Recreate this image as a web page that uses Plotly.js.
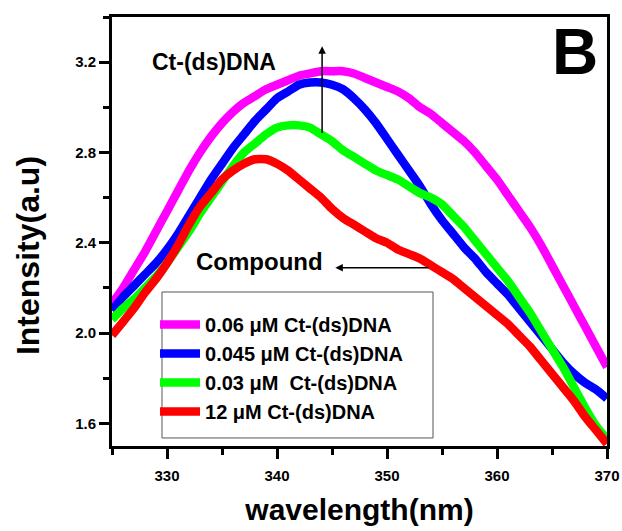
<!DOCTYPE html>
<html>
<head>
<meta charset="utf-8">
<script src="https://cdn.plot.ly/plotly-3.0.1.min.js"></script>
<style>
  html, body { margin: 0; padding: 0; background: #fff; }
  #chart { width: 622px; height: 531px; }
</style>
</head>
<body>
<div id="chart"></div>
<script>
// Wavelength (nm)
const wavelength = [325,326,327,328,329,330,331,332,333,334,335,336,337,338,339,340,341,342,343,344,345,346,347,348,349,350,351,352,353,354,355,356,357,358,359,360,361,362,363,364,365,366,367,368,369,370];

// Series names
const seriesNames = ["0.06 \u03bcM Ct-(ds)DNA", "0.045 \u03bcM Ct-(ds)DNA", "0.03 \u03bcM  Ct-(ds)DNA", "12 \u03bcM Ct-(ds)DNA"];

// Intensities (a.u)
const dna006 = [2.13,2.20,2.28,2.36,2.45,2.54,2.63,2.72,2.80,2.87,2.93,2.98,3.02,3.05,3.08,3.10,3.12,3.14,3.15,3.16,3.16,3.16,3.15,3.13,3.11,3.09,3.07,3.04,3.00,2.97,2.93,2.89,2.85,2.80,2.74,2.68,2.61,2.54,2.47,2.39,2.30,2.21,2.12,2.03,1.94,1.85];
const dna0045 = [2.10,2.16,2.21,2.26,2.31,2.37,2.44,2.52,2.60,2.68,2.75,2.82,2.88,2.94,2.99,3.04,3.07,3.10,3.11,3.11,3.10,3.08,3.04,2.99,2.93,2.86,2.79,2.72,2.65,2.57,2.50,2.44,2.38,2.33,2.27,2.22,2.17,2.11,2.05,1.99,1.93,1.87,1.82,1.78,1.75,1.71];
const dna003 = [2.06,2.11,2.15,2.20,2.25,2.31,2.38,2.45,2.53,2.60,2.67,2.74,2.80,2.84,2.88,2.91,2.92,2.92,2.91,2.88,2.85,2.81,2.78,2.75,2.72,2.70,2.68,2.65,2.62,2.60,2.57,2.52,2.47,2.41,2.35,2.29,2.23,2.16,2.09,2.01,1.93,1.85,1.76,1.67,1.59,1.53];
const compound12 = [1.99,2.05,2.11,2.18,2.24,2.31,2.39,2.48,2.56,2.62,2.68,2.72,2.75,2.77,2.77,2.75,2.72,2.68,2.64,2.60,2.55,2.51,2.48,2.45,2.42,2.40,2.37,2.35,2.33,2.30,2.27,2.24,2.20,2.16,2.12,2.08,2.04,1.99,1.94,1.88,1.82,1.76,1.70,1.63,1.57,1.51];

const seriesValues = [dna006, dna0045, dna003, compound12];
const seriesColors = ["#ff00ff", "#0000ff", "#00ff00", "#ff0000"];

const FONT = "Liberation Sans, Arial, sans-serif";

const traces = seriesValues.map((vals, i) => ({
  x: wavelength,
  y: vals,
  type: "scatter",
  mode: "lines",
  name: seriesNames[i],
  legendgroup: "g" + i,
  line: { color: seriesColors[i], width: 8.5, shape: "spline", smoothing: 0.5 }
}));

const layout = {
  width: 622,
  height: 531,
  paper_bgcolor: "#ffffff",
  plot_bgcolor: "#ffffff",
  margin: { l: 112, r: 15, t: 17, b: 85 },
  showlegend: true,
  legend: {
    x: 0.0869, y: 0.3287, xanchor: "left", yanchor: "top",
    borderwidth: 0, bgcolor: "rgba(255,255,255,0)",
    itemwidth: 40,
    font: { family: FONT, size: 20, color: "#000", weight: "bold" },
    tracegroupgap: 0
  },
  shapes: [
    { type: "rect", xref: "paper", yref: "paper", x0: 0.101, x1: 0.6485, y0: 0.0187, y1: 0.359,
      line: { color: "#555555", width: 1 }, fillcolor: "rgba(0,0,0,0)", layer: "above" }
  ],
  xaxis: {
    range: [325, 370],
    dtick: 10, tick0: 330,
    ticks: "outside", ticklen: 10, tickwidth: 3, tickcolor: "#000",
    ticklabelstandoff: 4,
    minor: { dtick: 5, tick0: 325, ticks: "outside", ticklen: 6, tickwidth: 3, tickcolor: "#000" },
    showline: true, linewidth: 3, linecolor: "#000", mirror: true,
    showgrid: false, zeroline: false,
    tickfont: { family: FONT, size: 15, color: "#000", weight: "bold" },
    title: { text: "wavelength(nm)", standoff: 16, font: { family: FONT, size: 30, color: "#000", weight: "bold" } }
  },
  yaxis: {
    range: [1.5, 3.4],
    dtick: 0.4, tick0: 1.6, tickformat: ".1f",
    ticks: "outside", ticklen: 10, tickwidth: 3, tickcolor: "#000",
    minor: { dtick: 0.2, tick0: 1.6, ticks: "outside", ticklen: 6, tickwidth: 3, tickcolor: "#000" },
    showline: true, linewidth: 3, linecolor: "#000", mirror: true,
    showgrid: false, zeroline: false,
    tickfont: { family: FONT, size: 15, color: "#000", weight: "bold" }
  },
  annotations: [
    { xref: "paper", yref: "paper", x: -0.1697, y: 0.445, text: "Intensity(a.u)", showarrow: false,
      textangle: -90, xanchor: "center", yanchor: "middle",
      font: { family: FONT, size: 32, color: "#000", weight: "bold" } },
    { xref: "paper", yref: "paper", x: 0.206, y: 0.895, text: "Ct-(ds)DNA", showarrow: false,
      xanchor: "center", yanchor: "middle", font: { family: FONT, size: 23, color: "#000", weight: "bold" } },
    { xref: "paper", yref: "paper", x: 0.935, y: 0.918, text: "B", showarrow: false,
      xanchor: "center", yanchor: "middle", font: { family: FONT, size: 64, color: "#000", weight: "bold" } },
    { xref: "paper", yref: "paper", x: 0.297, y: 0.429, text: "Compound", showarrow: false,
      xanchor: "center", yanchor: "middle", font: { family: FONT, size: 24, color: "#000", weight: "bold" } },
    { xref: "x", yref: "y", x: 344.1, y: 3.27, axref: "x", ayref: "y", ax: 344.1, ay: 2.88,
      text: "", showarrow: true, arrowhead: 2, arrowsize: 1, arrowwidth: 1.5, arrowcolor: "#000" },
    { xref: "x", yref: "y", x: 345.3, y: 2.29, axref: "x", ayref: "y", ax: 353.9, ay: 2.29,
      text: "", showarrow: true, arrowhead: 2, arrowsize: 1, arrowwidth: 1.5, arrowcolor: "#000" }
  ]
};

Plotly.newPlot("chart", traces, layout, { displayModeBar: false, staticPlot: true });
</script>
</body>
</html>
